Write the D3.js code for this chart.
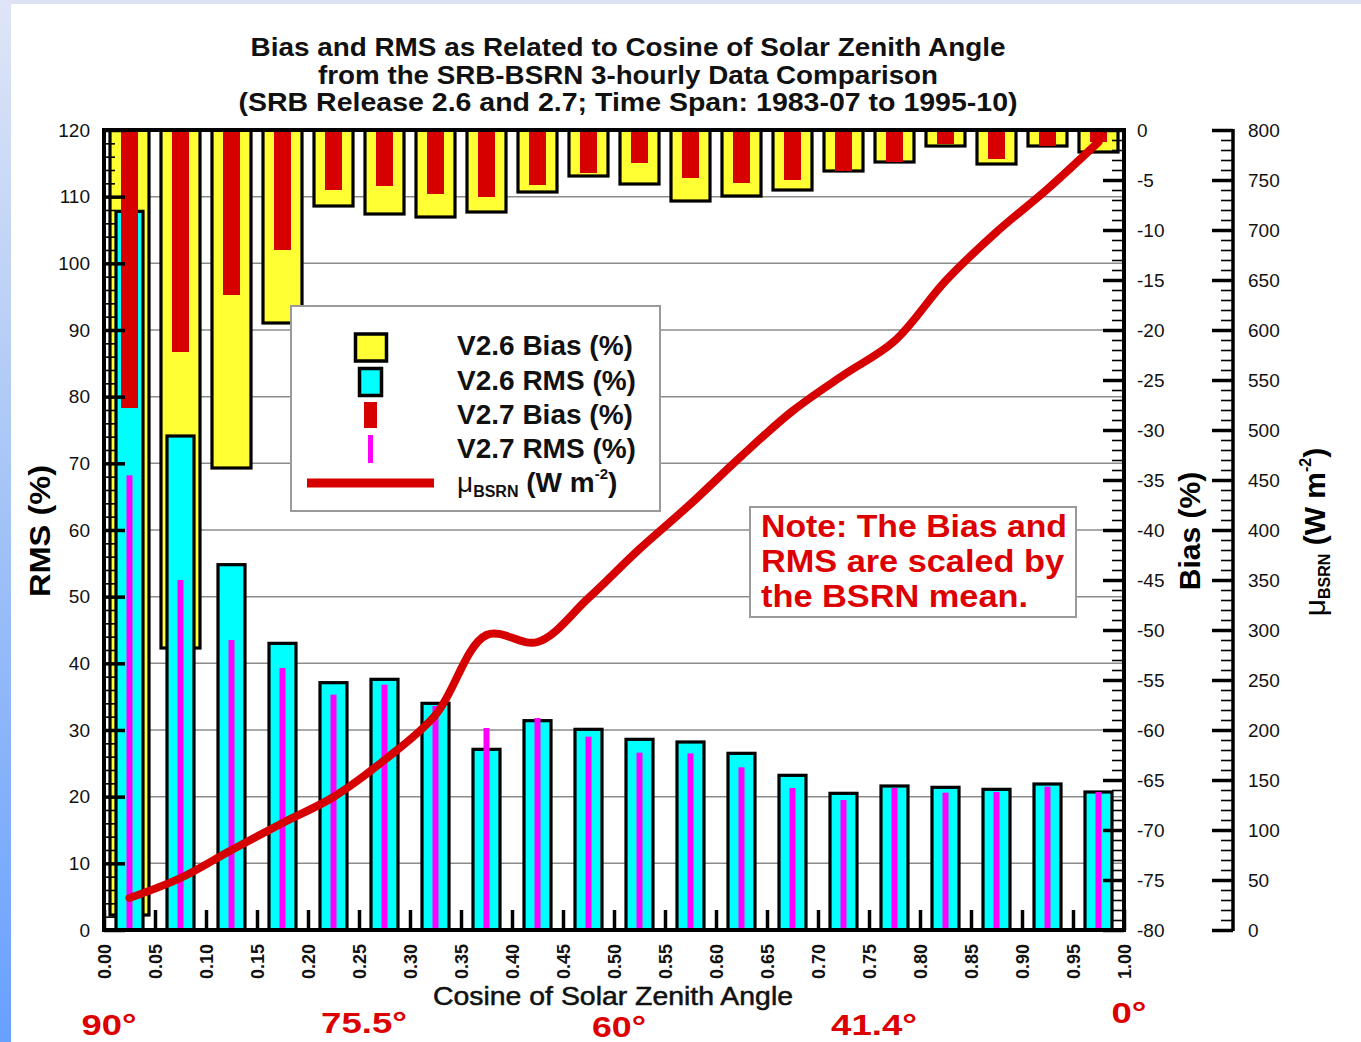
<!DOCTYPE html>
<html>
<head>
<meta charset="utf-8">
<script src="https://cdn.jsdelivr.net/npm/d3@7"></script>
<style>
  html, body { margin: 0; padding: 0; background: #ffffff; }
  svg { display: block; font-family: "Liberation Sans", Arial, Helvetica, sans-serif; }
</style>
</head>
<body>
<svg id="chart" width="1361" height="1042"></svg>
<script>
// ---- data: 0.05-wide bins of cosine of solar zenith angle ----
const binCenters = [0.025, 0.075, 0.125, 0.175, 0.225, 0.275, 0.325, 0.375, 0.425, 0.475,
                    0.525, 0.575, 0.625, 0.675, 0.725, 0.775, 0.825, 0.875, 0.925, 0.975];
const v26Bias = [-78.5, -51.8, -33.8, -19.3, -7.6, -8.4, -8.7, -8.2, -6.2, -4.6,
                 -5.4, -7.1, -6.6, -6.0, -4.1, -3.2, -1.6, -3.4, -1.6, -2.2];
const v27Bias = [-27.8, -22.2, -16.5, -12.0, -6.0, -5.6, -6.4, -6.7, -5.5, -4.3,
                 -3.3, -4.8, -5.3, -5.0, -4.1, -3.2, -1.4, -2.9, -1.6, -1.2];
const v26Rms = [107.8, 74.1, 54.8, 43.0, 37.1, 37.6, 34.0, 27.1, 31.4, 30.1,
                28.6, 28.2, 26.5, 23.2, 20.5, 21.6, 21.4, 21.1, 21.9, 20.7];
const v27Rms = [68.2, 52.5, 43.5, 39.3, 35.3, 36.8, 33.6, 30.3, 31.8, 29.0,
                26.6, 26.5, 24.4, 21.3, 19.5, 21.3, 20.6, 20.7, 21.5, 20.7];
const muBsrn = [32, 52, 80, 107, 133, 170, 215, 295, 288, 332,
                381, 426, 474, 519, 555, 589, 649, 698, 741, 788];

// ---- axis ticks and labels ----
const xTicks = [0.00, 0.05, 0.10, 0.15, 0.20, 0.25, 0.30, 0.35, 0.40, 0.45, 0.50,
                0.55, 0.60, 0.65, 0.70, 0.75, 0.80, 0.85, 0.90, 0.95, 1.00];
const rmsTicks = [0, 10, 20, 30, 40, 50, 60, 70, 80, 90, 100, 110, 120];
const biasTicks = [0, -5, -10, -15, -20, -25, -30, -35, -40, -45, -50, -55, -60, -65, -70, -75, -80];
const muTicks = [0, 50, 100, 150, 200, 250, 300, 350, 400, 450, 500, 550, 600, 650, 700, 750, 800];
const angleLabels = ["90°", "75.5°", "60°", "41.4°", "0°"];
const angleCos = [0, 0.25, 0.5, 0.75, 1.0];
const titleLines = [
  "Bias and RMS  as Related to Cosine of Solar Zenith Angle",
  "from the SRB-BSRN 3-hourly Data Comparison",
  "(SRB Release 2.6 and 2.7; Time Span: 1983-07 to 1995-10)"
];
const legendLabels = ["V2.6 Bias (%)", "V2.6 RMS (%)", "V2.7 Bias (%)", "V2.7 RMS (%)"];
const noteLines = ["Note: The Bias and", "RMS are scaled by", "the BSRN mean."];

// ---- colours ----
const C = {
  yellow: "#ffff33", cyan: "#00ffff", red: "#d60000", magenta: "#ff00ff",
  grid: "#8c8c8c", note: "#dd0000"
};

const plot = { left: 104, right: 1124, top: 130, bottom: 930 };
const svg = d3.select("#chart");

// page decoration: thin lavender strip on top, blue gradient strip on the left
const defs = svg.append("defs");
const grad = defs.append("linearGradient").attr("id", "sideGrad")
  .attr("x1", 0).attr("y1", 0).attr("x2", 0).attr("y2", 1);
grad.append("stop").attr("offset", "0%").attr("stop-color", "#dfe5f6");
grad.append("stop").attr("offset", "45%").attr("stop-color", "#a8c6f6");
grad.append("stop").attr("offset", "100%").attr("stop-color", "#68a0ff");
svg.append("rect").attr("x", 0).attr("y", 0).attr("width", 1361).attr("height", 4).attr("fill", "#dde2f3");
svg.append("rect").attr("x", 0).attr("y", 0).attr("width", 11).attr("height", 1042).attr("fill", "url(#sideGrad)");

// scales
const x = d3.scaleLinear().domain([0, 1]).range([plot.left, plot.right]);
const yRms = d3.scaleLinear().domain([0, 120]).range([plot.bottom, plot.top]);
const yBias = d3.scaleLinear().domain([-80, 0]).range([plot.bottom, plot.top]);
const yMu = d3.scaleLinear().domain([0, 800]).range([plot.bottom, plot.top]);

// horizontal grid at the RMS ticks
svg.append("g").selectAll("line")
  .data(rmsTicks.filter(v => v > 0 && v < 120))
  .join("line")
  .attr("x1", plot.left).attr("x2", plot.right)
  .attr("y1", d => yRms(d)).attr("y2", d => yRms(d))
  .attr("stroke", C.grid).attr("stroke-width", 1.5);

const rows = binCenters.map((c, i) => ({
  c, b26: v26Bias[i], b27: v27Bias[i], r26: v26Rms[i], r27: v27Rms[i], mu: muBsrn[i]
}));

// V2.6 bias: hanging from the top (bias = 0)
svg.append("g").selectAll("rect").data(rows).join("rect")
  .attr("x", d => x(d.c) - 19.5).attr("width", 39)
  .attr("y", yBias(0)).attr("height", d => yBias(d.b26) - yBias(0))
  .attr("fill", C.yellow).attr("stroke", "#000").attr("stroke-width", 3.2);

// V2.6 RMS: rising from the bottom
svg.append("g").selectAll("rect").data(rows).join("rect")
  .attr("x", d => x(d.c) - 13.5).attr("width", 27)
  .attr("y", d => yRms(d.r26)).attr("height", d => yRms(0) - yRms(d.r26))
  .attr("fill", C.cyan).attr("stroke", "#000").attr("stroke-width", 3.2);

// V2.7 bias
svg.append("g").selectAll("rect").data(rows).join("rect")
  .attr("x", d => x(d.c) - 8.5).attr("width", 17)
  .attr("y", yBias(0)).attr("height", d => yBias(d.b27) - yBias(0))
  .attr("fill", C.red);

// V2.7 RMS
svg.append("g").selectAll("rect").data(rows).join("rect")
  .attr("x", d => x(d.c) - 3).attr("width", 6)
  .attr("y", d => yRms(d.r27)).attr("height", d => yRms(0) - yRms(d.r27))
  .attr("fill", C.magenta);

// ---- axes ----
function styleAxis(g, major) {
  g.attr("font-size", null).attr("font-family", null);
  g.select(".domain").remove();
  g.selectAll(".tick line").attr("stroke", "#000").attr("stroke-width", major ? 3.5 : 1.6);
  g.selectAll(".tick text").attr("fill", "#111").style("font-size", "19px");
}

// left RMS axis (ticks point inward)
svg.append("g").attr("transform", `translate(${plot.left},0)`)
  .call(d3.axisLeft(yRms).tickValues(d3.range(0, 121, 2).filter(v => v % 10)).tickSize(-11).tickFormat(""))
  .call(g => styleAxis(g, false));
svg.append("g").attr("transform", `translate(${plot.left},0)`)
  .call(d3.axisLeft(yRms).tickValues(rmsTicks).tickSize(-21).tickPadding(14).tickFormat(d => String(d)))
  .call(g => styleAxis(g, true));

// right bias axis
svg.append("g").attr("transform", `translate(${plot.right},0)`)
  .call(d3.axisRight(yBias).tickValues(d3.range(-80, 0.5, 1).filter(v => v % 5)).tickSize(-12).tickFormat(""))
  .call(g => styleAxis(g, false));
svg.append("g").attr("transform", `translate(${plot.right},0)`)
  .call(d3.axisRight(yBias).tickValues(biasTicks).tickSize(-21).tickPadding(13).tickFormat(d => String(d)))
  .call(g => styleAxis(g, true));

// far-right BSRN mean axis
const muX = 1233;
svg.append("line").attr("x1", muX).attr("x2", muX).attr("y1", plot.top - 1).attr("y2", plot.bottom + 1)
  .attr("stroke", "#000").attr("stroke-width", 3.5);
svg.append("g").attr("transform", `translate(${muX},0)`)
  .call(d3.axisRight(yMu).tickValues(d3.range(0, 801, 10).filter(v => v % 50)).tickSize(-12).tickFormat(""))
  .call(g => styleAxis(g, false));
svg.append("g").attr("transform", `translate(${muX},0)`)
  .call(d3.axisRight(yMu).tickValues(muTicks).tickSize(-21).tickPadding(15).tickFormat(d => String(d)))
  .call(g => styleAxis(g, true));

// bottom cosine axis, labels rotated
svg.append("g").attr("transform", `translate(0,${plot.bottom})`)
  .call(d3.axisBottom(x).tickValues(xTicks).tickSize(-20).tickFormat(d3.format(".2f")))
  .call(g => {
    styleAxis(g, true);
    g.selectAll(".tick text")
      .attr("y", 0).attr("x", -14).attr("dy", "0.36em")
      .attr("transform", "rotate(-90)")
      .style("text-anchor", "end").style("font-size", "18px").style("font-weight", "bold");
  });

// plot frame
svg.append("rect").attr("x", plot.left).attr("y", plot.top)
  .attr("width", plot.right - plot.left).attr("height", plot.bottom - plot.top)
  .attr("fill", "none").attr("stroke", "#000").attr("stroke-width", 4);

// BSRN mean curve
const line = d3.line().x(d => x(d.c)).y(d => yMu(d.mu)).curve(d3.curveCatmullRom.alpha(0.5));
svg.append("path").datum(rows).attr("d", line)
  .attr("fill", "none").attr("stroke", C.red).attr("stroke-width", 8)
  .attr("stroke-linecap", "round").attr("stroke-linejoin", "round");

// ---- titles ----
const titleBase = [56, 84, 111];
const titleLen = [755, 620, 779];
svg.append("g").selectAll("text").data(titleLines).join("text")
  .attr("x", 628).attr("y", (d, i) => titleBase[i])
  .attr("text-anchor", "middle")
  .attr("textLength", (d, i) => titleLen[i]).attr("lengthAdjust", "spacingAndGlyphs")
  .style("font-size", "25px").style("font-weight", "bold").attr("fill", "#111")
  .text(d => d);

svg.append("text").attr("transform", "translate(50,531) rotate(-90)")
  .attr("text-anchor", "middle").attr("textLength", 132).attr("lengthAdjust", "spacingAndGlyphs")
  .style("font-size", "30px").style("font-weight", "bold").text("RMS (%)");

svg.append("text").attr("transform", "translate(1200,531) rotate(-90)")
  .attr("text-anchor", "middle")
  .style("font-size", "30px").style("font-weight", "bold").text("Bias (%)");

const muLabel = svg.append("text").attr("transform", "translate(1325,532) rotate(-90)")
  .attr("text-anchor", "middle").style("font-weight", "bold");
muLabel.append("tspan").style("font-size", "30px").style("font-weight", "normal").text("μ");
muLabel.append("tspan").style("font-size", "16px").attr("dy", 5).text("BSRN");
muLabel.append("tspan").style("font-size", "30px").attr("dy", -5).text(" (W m");
muLabel.append("tspan").style("font-size", "16px").attr("dy", -14).text("-2");
muLabel.append("tspan").style("font-size", "30px").attr("dy", 14).text(")");

svg.append("text").attr("x", 613).attr("y", 1005).attr("text-anchor", "middle")
  .attr("textLength", 360).attr("lengthAdjust", "spacingAndGlyphs")
  .style("font-size", "25px").attr("fill", "#111").attr("stroke", "#111").attr("stroke-width", 0.5)
  .text("Cosine of Solar Zenith Angle");

// zenith angle labels under the cosine axis
const angleBase = [1035, 1033, 1037, 1035, 1023];
const angleLen = [55, 86, 54, 86, 35];
svg.append("g").selectAll("text").data(angleLabels).join("text")
  .attr("x", (d, i) => x(angleCos[i]) + 5).attr("y", (d, i) => angleBase[i])
  .attr("text-anchor", "middle")
  .attr("textLength", (d, i) => angleLen[i]).attr("lengthAdjust", "spacingAndGlyphs")
  .style("font-size", "30px").style("font-weight", "bold").attr("fill", C.note)
  .text(d => d);

// ---- legend ----
const lg = svg.append("g");
lg.append("rect").attr("x", 291).attr("y", 306).attr("width", 369).attr("height", 205)
  .attr("fill", "#fff").attr("stroke", "#9a9a9a").attr("stroke-width", 2);
lg.append("rect").attr("x", 355.5).attr("y", 334).attr("width", 31).attr("height", 27)
  .attr("fill", C.yellow).attr("stroke", "#000").attr("stroke-width", 3.5);
lg.append("rect").attr("x", 359.5).attr("y", 368.5).attr("width", 22).attr("height", 27)
  .attr("fill", C.cyan).attr("stroke", "#000").attr("stroke-width", 3.5);
lg.append("rect").attr("x", 364).attr("y", 402).attr("width", 13).attr("height", 26).attr("fill", C.red);
lg.append("rect").attr("x", 368).attr("y", 435).attr("width", 5).attr("height", 28).attr("fill", C.magenta);
lg.append("line").attr("x1", 307).attr("x2", 434).attr("y1", 483).attr("y2", 483)
  .attr("stroke", C.red).attr("stroke-width", 9);
const legendBase = [355, 390, 424, 458];
lg.selectAll("text.item").data(legendLabels).join("text").attr("class", "item")
  .attr("x", 457).attr("y", (d, i) => legendBase[i])
  .style("font-size", "28px").style("font-weight", "bold").attr("fill", "#111")
  .text(d => d);
const muLeg = lg.append("text").attr("x", 457).attr("y", 492).attr("fill", "#111").style("font-weight", "bold");
muLeg.append("tspan").style("font-size", "28px").style("font-weight", "normal").text("μ");
muLeg.append("tspan").style("font-size", "16px").attr("dy", 5).text("BSRN");
muLeg.append("tspan").style("font-size", "28px").attr("dy", -5).text(" (W m");
muLeg.append("tspan").style("font-size", "15px").attr("dy", -13).text("-2");
muLeg.append("tspan").style("font-size", "28px").attr("dy", 13).text(")");

// ---- note box ----
const nb = svg.append("g");
nb.append("rect").attr("x", 750).attr("y", 507).attr("width", 326).attr("height", 110)
  .attr("fill", "#fff").attr("stroke", "#9a9a9a").attr("stroke-width", 2);
const noteBase = [537, 572, 607];
const noteLen = [306, 303, 267];
nb.selectAll("text").data(noteLines).join("text")
  .attr("x", 761).attr("y", (d, i) => noteBase[i])
  .attr("textLength", (d, i) => noteLen[i]).attr("lengthAdjust", "spacingAndGlyphs")
  .style("font-size", "31px").style("font-weight", "bold").attr("fill", C.note)
  .text(d => d);
</script>
</body>
</html>
